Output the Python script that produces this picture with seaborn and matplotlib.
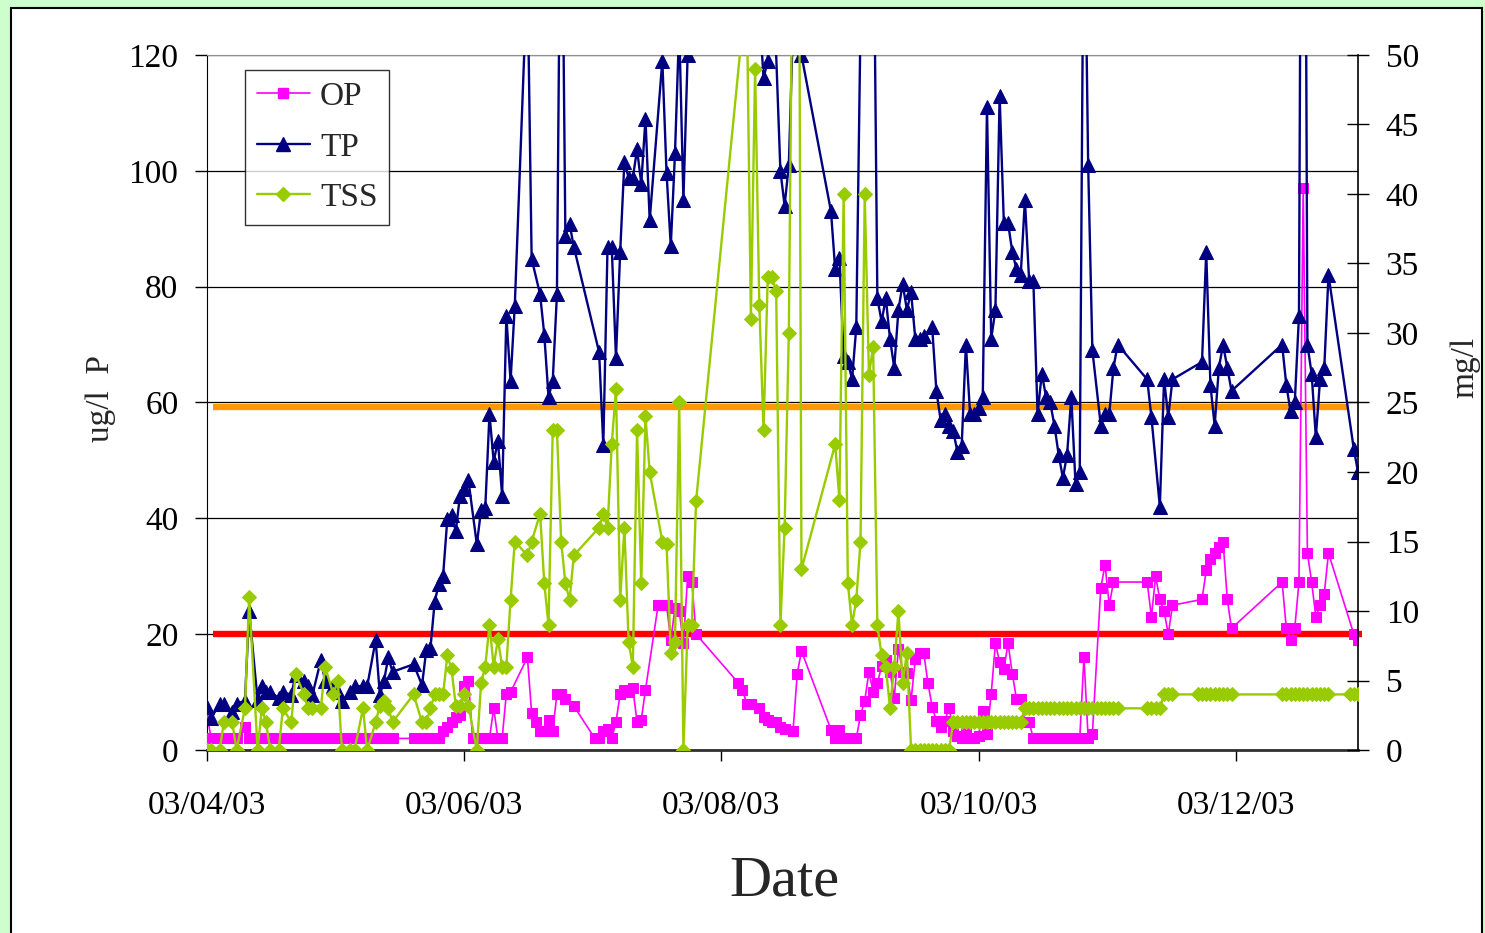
import pandas as pd
import matplotlib.pyplot as plt
import matplotlib.dates as mdates
from matplotlib.lines import Line2D
from matplotlib.patches import Rectangle
import seaborn as sns

sns.set_style('white')
plt.rcParams['font.family'] = ['Liberation Serif', 'DejaVu Serif']

# sampling day = days since 03/04/03
start = pd.Timestamp('2003-04-03')

# OP (ug/l P, left axis)
op_day = [0, 1, 3, 4, 6, 7, 9, 10, 12, 13, 14, 15, 17, 18, 20, 21, 23, 24, 25, 27, 28, 30, 31, 32, 34, 35, 37, 38,
          40, 41, 42, 43, 44,
          49, 51, 52, 53, 54, 55, 56, 57, 58, 59, 60, 61, 62, 63, 64, 65, 66, 67, 68, 69, 70, 71, 72, 76, 77, 78,
          79, 80, 81, 82, 83, 84, 85, 87,
          92, 93, 94, 95, 96, 97, 98, 99, 100, 101, 102, 103, 104,
          107, 109, 110, 111, 112, 113, 114, 115, 116,
          126, 127, 128, 129, 131, 132, 133, 134, 135, 136, 137, 139, 140, 141,
          148, 149, 150, 151, 152, 153, 154, 155, 156, 157, 158, 159, 160, 161, 162, 163, 164, 165, 166, 167, 168,
          169, 170, 171, 172, 173, 174, 175, 176, 177,
          178, 179, 180, 181, 182, 183, 184, 185, 186, 187, 188, 189, 190, 191, 192, 193, 194, 195,
          196, 197, 198, 199, 200, 201, 202, 203, 204, 205, 206, 207, 208, 209, 210, 212, 213, 214, 215,
          223, 224, 225, 226, 227, 228, 229, 236, 237, 238, 239, 240, 241, 242, 243,
          255, 256, 257, 258, 259, 260, 261, 262, 263, 264, 265, 266, 272, 273]
op_val = [6, 2, 2, 2, 2, 2, 4, 2, 2, 2, 2, 2, 2, 2, 2, 2, 2, 2, 2, 2, 2, 2, 2, 2, 2, 2, 2, 2,
          2, 2, 2, 2, 2,
          2, 2, 2, 2, 2, 2, 3.3, 4, 4.8, 5.7, 6, 11, 12, 2, 2, 2, 2, 2, 7.2, 2, 2, 9.7, 10, 16, 6.4, 4.8,
          3.3, 3.3, 5.2, 3.3, 9.7, 9.7, 8.8, 7.6,
          2, 2, 3.3, 3.6, 2, 4.8, 9.7, 10.4, 10, 10.7, 4.8, 5.2, 10.4,
          25, 25, 19, 24.5, 24, 18.5, 30, 29, 20,
          11.6, 10.4, 8, 8, 7.3, 5.7, 5.2, 4.8, 4.8, 4, 3.6, 3.3, 13.2, 17.1,
          3.5, 2, 3.5, 2, 2, 2, 2, 6, 8.5, 13.5, 10, 11.5, 14.5, 15.5, 13.5, 9, 17.5, 13.5, 13.3, 8.6, 15.7,
          16.8, 16.8, 11.5, 7.5, 5, 4, 5, 7.3, 3.3,
          2.5, 2, 3.3, 2, 2, 2.5, 6.8, 2.8, 9.7, 18.4, 15.2, 14, 18.4, 13.2, 8.8, 8.8, 4.8, 4.8,
          2, 2, 2, 2, 2, 2, 2, 2, 2, 2, 2, 2, 16, 2, 2.8, 28, 32, 25, 29,
          29, 23, 30, 26, 24, 20, 25, 26, 31, 33, 34, 35, 36, 26, 21,
          29, 21, 19, 21, 29, 97, 34, 29, 23, 25, 27, 34, 20, 19]

# TP (ug/l P, left axis)
tp_day = [0, 1, 3, 4, 6, 7, 9, 10, 12, 13, 14, 15, 17, 18, 20, 21, 23, 24, 25, 27, 28, 30, 31, 32, 34, 35, 37, 38,
          40, 41, 42, 43, 44,
          49, 51, 52, 53, 54, 55, 56, 57, 58, 59, 60, 61, 62, 64, 65, 66, 67, 68, 69, 70, 71, 72, 73, 76, 77, 79,
          80, 81, 82, 83, 84, 85, 86, 87,
          93, 94, 95, 96, 97, 98, 99, 100, 101, 102, 103, 104, 105, 108, 109, 110, 111, 112, 113, 114,
          125, 132, 133, 134, 136, 137, 138, 140, 141,
          148, 149, 150, 151, 152, 153, 154, 157, 159, 160, 161, 162, 163, 164, 165, 166, 167, 168, 169, 170,
          172, 173, 174, 175, 176, 177, 178, 179, 180, 181, 182, 183, 184, 185, 186, 187, 188, 189, 190, 191,
          192, 193, 194, 195, 196, 197, 198, 199, 200, 201, 202, 203, 204, 205, 206, 207, 208, 209, 210,
          212, 213, 214, 215, 216,
          223, 224, 226, 227, 228, 229, 236, 237, 238, 239, 240, 241, 242, 243,
          255, 256, 257, 258, 259, 260, 261, 262, 263, 264, 265, 266, 272, 273]
tp_val = [7.5, 5.5, 8, 8, 6.5, 8, 8.5, 24, 8.6, 11, 10, 10, 9, 10, 9.5, 13, 12, 11, 9.5, 15.5, 12, 11, 10, 8.5,
          10, 11, 11, 11, 19, 9.5, 12, 16, 13.5,
          14.8, 11.2, 17.2, 17.6, 25.6, 28.7, 30.1, 39.9, 40.6, 37.8, 43.9, 45, 46.6, 35.5, 41.4, 41.8, 58, 49.8,
          53.4, 43.9, 74.9, 63.7, 76.7, 135, 84.8, 78.7, 71.7, 61, 63.7, 78.7, 165, 88.8, 90.8, 86.9,
          68.7, 52.6, 86.9, 86.9, 67.7, 86, 101.6, 98.8, 98.8, 103.7, 97.8, 109, 91.5, 119, 99.6, 87, 103, 125,
          95, 120,
          200, 116, 119, 140, 100, 94, 101, 150, 120,
          93, 83, 85, 68, 67, 64, 73, 230, 78, 74, 78, 71, 66, 76, 80.5, 76, 79, 71, 71, 71.5,
          73, 62, 57, 58, 56, 55, 51.5, 52.5, 70, 58, 58, 59, 61, 111, 71, 76, 113, 91, 91, 86,
          83, 82, 95, 81, 81, 58, 65, 61, 60, 56, 51, 47, 51, 61, 46, 48, 155, 101, 69,
          56, 58, 58, 66, 70,
          64, 57.5, 42, 64, 57.5, 64, 67, 86, 63, 56, 66, 70, 66, 62,
          70, 63, 58.5, 60, 75, 250, 70, 65, 54, 64, 66, 82, 52, 48]

# TSS (mg/l, right axis)
tss_day = [0, 1, 3, 4, 6, 7, 9, 10, 12, 13, 14, 15, 17, 18, 20, 21, 23, 24, 25, 27, 28, 30, 31, 32, 34, 35, 37,
           38, 40, 41, 42, 43, 44,
           49, 51, 52, 53, 54, 55, 56, 57, 58, 59, 60, 61, 62, 64, 65, 66, 67, 68, 69, 70, 71, 72, 73, 76, 77,
           79, 80, 81, 82, 83, 84, 85, 86, 87,
           93, 94, 95, 96, 97, 98, 99, 100, 101, 102, 103, 104, 105,
           108, 109, 110, 111, 112, 113, 114, 115, 116,
           128, 129, 130, 131, 132, 133, 134, 135, 136, 137, 138, 140, 141,
           149, 150, 151, 152, 153, 154, 155, 156, 157, 158, 159, 160, 161, 162, 163, 164, 165, 166,
           167, 168, 169, 170, 171, 172, 173, 174, 175, 176, 177,
           178, 179, 180, 181, 182, 183, 184, 185, 186, 187, 188, 189, 190, 191, 192, 193,
           194, 195, 196, 197, 198, 199, 200, 201, 202, 203, 204, 205, 206, 207, 208, 209, 210, 211, 212, 213,
           214, 215, 216,
           223, 224, 225, 226, 227, 228, 229, 235, 236, 237, 238, 239, 240, 241, 242, 243,
           255, 256, 257, 258, 259, 260, 261, 262, 263, 264, 265, 266, 271, 272, 273]
tss_val = [0, 0, 0, 2, 2, 0, 3, 11, 0, 3, 2, 0, 0, 3, 2, 5.5, 4, 3, 3, 3, 6, 4, 5, 0, 0, 0, 3,
           0, 2, 3.2, 3.5, 3, 2,
           4, 2, 2, 3, 4, 4, 4, 6.8, 5.8, 3.2, 3.2, 4, 3.2, 0, 4.8, 6, 9, 6, 8, 6, 6, 10.8, 15, 14, 15,
           17, 12, 9, 23, 23, 15, 12, 10.8, 14,
           16, 17, 16, 22, 26, 10.8, 16, 7.8, 6, 23, 12, 24, 20,
           15, 14.8, 7, 7.8, 25, 0, 9, 9, 17.9,
           55, 31, 49, 32, 23, 34, 34, 33, 9, 16, 30, 95, 13,
           22, 18, 40, 12, 9, 10.8, 15, 40, 27, 29, 9, 6.8, 6, 3, 6, 10, 4.8, 7,
           0, 0, 0, 0, 0, 0, 0, 0, 0, 0, 2,
           2, 2, 2, 2, 2, 2, 2, 2, 2, 2, 2, 2, 2, 2, 2, 2,
           3, 3, 3, 3, 3, 3, 3, 3, 3, 3, 3, 3, 3, 3, 3, 3, 3, 3, 3, 3,
           3, 3, 3,
           3, 3, 3, 3, 4, 4, 4, 4, 4, 4, 4, 4, 4, 4, 4, 4,
           4, 4, 4, 4, 4, 4, 4, 4, 4, 4, 4, 4, 4, 4, 4]

# guide lines (ug/l P)
red_level = 20
orange_level = 59.2
red_span = [1.5, 274]
orange_span = [1.5, 270.5]

tick_dates = ['2003-04-03', '2003-06-03', '2003-08-03', '2003-10-03', '2003-12-03']


def to_dates(days):
    return start + pd.to_timedelta(pd.Series(days, dtype=float), unit='D')


W, H = 1485, 933
fig = plt.figure(figsize=(W / 100, H / 100), dpi=100)
fig.patch.set_facecolor('#CCFFCC')
fig.add_artist(Rectangle((11 / W, -0.1), 1471 / W, 1.1 - 8 / H, transform=fig.transFigure,
                         facecolor='white', edgecolor='black', linewidth=1.5, zorder=0))

ax = fig.add_axes([207 / W, 1 - 750 / H, 1151 / W, 695 / H])
ax2 = ax.twinx()

# guide lines under the series
ax.plot(to_dates(red_span), [red_level, red_level], color='#FF0000', linewidth=4.6,
        solid_capstyle='butt', zorder=1.5, clip_on=False)
ax.plot(to_dates(orange_span), [orange_level, orange_level], color='#FF9900', linewidth=4.6,
        solid_capstyle='butt', zorder=1.5)

sns.lineplot(x=to_dates(op_day), y=op_val, ax=ax, color='#FF00FF', linewidth=1.2,
             marker='s', markersize=7.5, markeredgecolor='#FF00FF',
             estimator=None, sort=False, legend=False, zorder=3)
sns.lineplot(x=to_dates(tp_day), y=tp_val, ax=ax, color='#000080', linewidth=1.7,
             marker='^', markersize=10, markeredgecolor='#000080',
             estimator=None, sort=False, legend=False, zorder=4)
sns.lineplot(x=to_dates(tss_day), y=tss_val, ax=ax2, color='#99CC00', linewidth=1.7,
             marker='D', markersize=7.5, markeredgecolor='#99CC00',
             estimator=None, sort=False, legend=False, zorder=3)

ax.set_xlim(start, pd.Timestamp('2004-01-01'))
ax.set_ylim(0, 120)
ax2.set_ylim(0, 50)
ax.set_yticks(range(0, 121, 20))
ax2.set_yticks(range(0, 51, 5))
ax.set_xticks(pd.to_datetime(tick_dates))
ax.xaxis.set_major_formatter(mdates.DateFormatter('%d/%m/%y'))
ax.set_xlabel('')
ax.set_ylabel('')
ax2.set_ylabel('')

ax.set_axisbelow(True)
ax.yaxis.grid(True, color='black', linewidth=0.9)
ax.xaxis.grid(False)

for s in ['left', 'bottom', 'right', 'top']:
    ax.spines[s].set_visible(True)
    ax2.spines[s].set_visible(False)
ax.spines['right'].set_visible(False)
ax.spines['top'].set_color('#909090')
ax.spines['left'].set_color('black')
ax.spines['bottom'].set_color('#303030')
ax.spines['bottom'].set_linewidth(2)
ax2.spines['right'].set_visible(True)
ax2.spines['right'].set_color('black')
ax2.spines['right'].set_linewidth(1.2)

ax.tick_params(axis='y', direction='out', length=8.6, width=1, pad=12, labelsize=24, colors='black', left=True)
ax.tick_params(axis='x', direction='out', length=8, width=1, pad=21, labelsize=24, colors='black', bottom=True)
ax2.tick_params(axis='y', direction='inout', length=16, width=1, pad=12, labelsize=24, colors='black', right=True)

# axis titles
fig.text(784 / W, 1 - 882 / H, 'Date', fontsize=42, ha='center', va='center')
fig.text(101 / W, 1 - 398 / H, 'ug/l  P', fontsize=24, rotation=90, ha='center', va='center')
fig.text(1465 / W, 1 - 367 / H, 'mg/l', fontsize=24, rotation=90, ha='center', va='center')

handles = [
    Line2D([], [], color='#FF00FF', linewidth=1.2, marker='s', markersize=7.5),
    Line2D([], [], color='#000080', linewidth=1.7, marker='^', markersize=10),
    Line2D([], [], color='#99CC00', linewidth=1.7, marker='D', markersize=7.5),
]
leg = ax2.legend(handles, ['OP', 'TP', 'TSS'], loc='upper left', bbox_to_anchor=(38 / 1151, 680 / 695),
                 borderaxespad=0, frameon=True, fancybox=False, edgecolor='black', fontsize=24,
                 handlelength=1.6, handletextpad=0.3, borderpad=0.35, labelspacing=0.6)
leg.get_frame().set_linewidth(1.0)

fig.savefig('out.png', dpi=100, facecolor=fig.get_facecolor())
